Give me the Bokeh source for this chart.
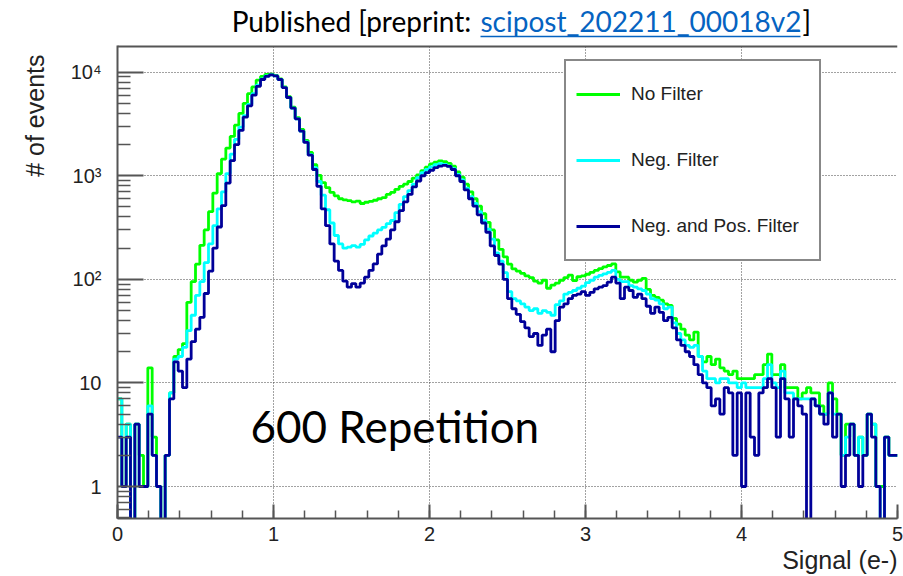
import math
from bokeh.plotting import figure
from bokeh.layouts import column
from bokeh.models import (Range1d, Label, Legend, LegendItem, FixedTicker,
                          SingleIntervalTicker, Span, Title)
from bokeh.core.properties import value
from bokeh.embed import file_html
from bokeh.resources import INLINE

# ---------------- data ----------------
N_BINS = 180
X_MIN, X_MAX = 0.0, 5.0

no_filter = [
    7, 1, 4, 0, 4, 2, 1, 14, 3, 1, 0, 2,
    8, 18, 21, 24, 60, 95, 140, 213, 300, 450, 680, 1050,
    1450, 1850, 2400, 3080, 4000, 5000, 6200, 7200, 8400, 9100, 9500, 9600,
    9300, 8600, 7200, 5800, 4600, 3650, 2800, 2200, 1680, 1280, 1010, 860,
    770, 690, 640, 600, 585, 575, 560, 570, 540, 555, 565, 580,
    600, 615, 660, 690, 740, 790, 830, 880, 950, 1020, 1120, 1210,
    1300, 1350, 1390, 1370, 1320, 1240, 1090, 970, 830, 700, 600, 510,
    430, 355, 300, 240, 195, 165, 140, 126, 120, 114, 108, 104,
    96, 92, 98, 82, 88, 92, 98, 104, 110, 97, 106, 108,
    112, 117, 122, 127, 132, 136, 141, 118, 105, 105, 98, 94,
    98, 102, 80, 70, 67, 63, 58, 56, 42, 37, 33, 29,
    26, 31, 18, 16, 18, 15, 17, 14, 13, 12, 13, 11,
    11, 11, 11, 12, 12, 15, 19, 12, 12, 15, 9, 9,
    9, 7, 8, 9, 8, 8, 6, 5, 10, 7, 5, 2,
    4, 4, 2, 3, 2, 5, 4, 1, 1, 3, 2, 2,
]

neg_filter = [
    7, 1, 4, 0, 4, 1, 1, 6, 2, 1, 0, 2,
    8, 17, 18, 22, 32, 45, 70, 95, 145, 220, 330, 480,
    700, 1050, 1620, 2250, 2950, 3800, 4900, 6200, 7500, 8600, 9200, 9400,
    9200, 8500, 7100, 5700, 4500, 3550, 2700, 2120, 1600, 1200, 880, 650,
    470, 350, 265, 220, 200, 205, 212, 205, 218, 240, 262, 280,
    300, 318, 345, 370, 440, 530, 630, 720, 830, 960, 1070, 1150,
    1220, 1280, 1310, 1290, 1240, 1170, 1030, 910, 760, 630, 540, 450,
    370, 305, 245, 180, 150, 116, 76, 65, 62, 58, 54, 50,
    52, 47, 50, 48, 45, 57, 62, 72, 75, 78, 82, 86,
    93, 98, 105, 109, 113, 117, 122, 100, 95, 95, 87, 84,
    81, 78, 72, 65, 63, 58, 52, 54, 38, 30, 26, 23,
    22, 23, 18, 13, 11, 11, 10, 11, 11, 10, 10, 9,
    10, 9, 9, 9, 9, 11, 15, 10, 9, 13, 8, 8,
    7, 7, 7, 7, 7, 6, 5, 5, 8, 5, 5, 2,
    3, 4, 2, 3, 2, 5, 4, 1, 0, 3, 2, 2,
]

neg_pos_filter = [
    3, 1, 3, 0, 4, 1, 1, 5, 2, 1, 0, 2,
    7, 16, 13, 9, 17, 25, 33, 43, 73, 120, 200, 320,
    515, 850, 1400, 2000, 2740, 3680, 4730, 6000, 7300, 8500, 9100, 9400,
    9200, 8500, 7100, 5700, 4500, 3550, 2700, 2100, 1580, 1150, 790, 480,
    330, 220, 150, 122, 96, 84, 91, 84, 92, 105, 122, 141,
    175, 210, 245, 300, 360, 460, 560, 660, 780, 890, 1000, 1070,
    1130, 1200, 1240, 1260, 1230, 1150, 1000, 880, 730, 600, 510, 420,
    350, 285, 210, 170, 140, 100, 65, 52, 46, 39, 34, 28,
    30, 23, 29, 33, 20, 40, 54, 58, 65, 70, 72, 76,
    70, 75, 81, 84, 87, 94, 105, 92, 65, 84, 78, 67,
    72, 65, 55, 47, 54, 48, 40, 43, 34, 26, 23, 20,
    18, 15, 12, 10, 9, 6, 7, 5, 9, 8, 2, 8,
    1, 8, 3, 2, 8, 9, 11, 9, 3, 11, 7, 3,
    7, 6, 5, 0, 7, 6, 5, 4, 8, 3, 5, 1,
    2, 4, 2, 1, 2, 5, 3, 1, 0, 3, 2, 2,
]

series_names = ["No Filter", "Neg. Filter", "Neg. and Pos. Filter"]
y_major_ticks = [1, 10, 100, 1000, 10000]
y_tick_labels = {1: "1", 10: "10", 100: "10\u00b2", 1000: "10\u00b3", 10000: "10\u2074"}

title_plain = "Published [preprint: "
title_link = "scipost_202211_00018v2"
title_close = "]"
annotation_text = "600 Repetition"
y_title = "# of events"
x_title = "Signal (e-)"

# ---------------- layout constants (page px) ----------------
W, H = 903, 576
TOP_H = 45                     # height of the title strip
FL, FR, FB = 117, 897, 518     # main frame edges in page px
MAIN_H = H - TOP_H

# ---------------- title strip (frame aligned with the main frame) ----------------
t = figure(width=W, height=TOP_H, x_range=Range1d(FL, FR), y_range=Range1d(TOP_H, 0),
           x_axis_location=None, y_axis_location=None, toolbar_location=None,
           output_backend="svg", min_border_left=FL, min_border_right=W - FR,
           min_border_top=0, min_border_bottom=0, outline_line_color=None)
t.xgrid.visible = False
t.ygrid.visible = False
t.background_fill_color = "white"
t.border_fill_color = "white"
TFONT = value("Lato")
TSIZE = value("28px")
t.text(x=[478], y=[20], text=[title_plain], text_font=TFONT, text_font_size=TSIZE,
       text_align="right", text_baseline="middle", text_color="black")
t.text(x=[480], y=[20], text=[title_link], text_font=TFONT, text_font_size=TSIZE,
       text_align="left", text_baseline="middle", text_color="#0563C1")
t.text(x=[802], y=[20], text=[title_close], text_font=TFONT, text_font_size=TSIZE,
       text_align="left", text_baseline="middle", text_color="black")
t.segment(x0=[480], y0=[36], x1=[800], y1=[36], line_color="#0563C1", line_width=1.5)

# ---------------- main plot ----------------
p = figure(width=W, height=MAIN_H, x_range=Range1d(X_MIN, X_MAX),
           y_range=Range1d(0.491, 18100), y_axis_type="log",
           output_backend="svg", toolbar_location=None,
           min_border_left=FL, min_border_right=W - FR,
           min_border_top=0, min_border_bottom=H - FB)
p.background_fill_color = "white"
p.border_fill_color = "white"
p.outline_line_color = None
p.add_layout(Span(location=18100, dimension="width", line_color="#555555", line_width=4))

edges = [X_MIN + i * (X_MAX - X_MIN) / N_BINS for i in range(N_BINS + 1)]

def step_xy(vals):
    ys = [v if v > 0 else 0.1 for v in vals]
    return edges, ys + [ys[-1]]

colors = ["#00ff00", "#00ffff", "#000099"]
renderers = []
for vals, col in zip([no_filter, neg_filter, neg_pos_filter], colors):
    xs, ys = step_xy(vals)
    renderers.append(p.step(xs, ys, mode="after", line_color=col, line_width=2.8))

tick_font = "Liberation Sans"
p.xaxis.ticker = SingleIntervalTicker(interval=1, num_minor_ticks=5)
minor_y = [m * 10 ** k for k in range(-1, 5) for m in range(2, 10)]
p.yaxis.ticker = FixedTicker(ticks=y_major_ticks, minor_ticks=minor_y)
p.yaxis.major_label_overrides = y_tick_labels
for ax in (p.xaxis[0], p.yaxis[0]):
    ax.axis_line_color = "#555555"
    ax.axis_line_width = 2
    ax.major_tick_line_color = "#555555"
    ax.major_tick_line_width = 2
    ax.minor_tick_line_color = "#555555"
    ax.minor_tick_line_width = 1.5
    ax.major_tick_out = 0
    ax.minor_tick_out = 0
    ax.major_label_text_font = tick_font
    ax.major_label_text_font_size = "20px"
    ax.major_label_text_color = "#222222"
p.yaxis.major_tick_in = 26
p.yaxis.minor_tick_in = 13
p.yaxis.major_label_standoff = 16
p.xaxis.major_tick_in = 14
p.xaxis.minor_tick_in = 8
p.xaxis.major_label_standoff = 8

# y axis title toward the top, x axis title right aligned (ROOT style)
p.add_layout(Title(text=y_title, align="right", vertical_align="top", text_font=tick_font,
                   text_font_style="normal", text_font_size="25px", text_color="#222222",
                   standoff=33, offset=9), "left")
p.add_layout(Title(text=x_title, align="right", text_font=tick_font, text_font_style="normal",
                   text_font_size="25px", text_color="#222222", standoff=1), "below")

for g in (p.xgrid[0], p.ygrid[0]):
    g.grid_line_color = "#444444"
    g.grid_line_dash = "1 2"
    g.grid_line_width = 1

legend = Legend(items=[LegendItem(label=n, renderers=[r]) for n, r in zip(series_names, renderers)],
                location=(564 - FL, FB - 261))
legend.border_line_color = "#111111"
legend.border_line_width = 2
legend.background_fill_color = "white"
legend.background_fill_alpha = 1.0
legend.label_text_font = tick_font
legend.label_text_font_size = "19px"
legend.label_text_color = "#222222"
legend.glyph_width = 44
legend.glyph_height = 46
legend.label_height = 46
legend.label_width = 178
legend.label_standoff = 11
legend.spacing = 20
legend.padding = 10
legend.margin = 0
p.add_layout(legend)

p.add_layout(Label(x=250 - FL, y=FB - 425, x_units="screen", y_units="screen",
                   text=annotation_text, text_align="left", text_baseline="middle",
                   text_font="Lato", text_font_size="44px", text_color="black"))

layout = column(t, p, spacing=0)
open("out.html", "w").write(file_html(layout, INLINE))
